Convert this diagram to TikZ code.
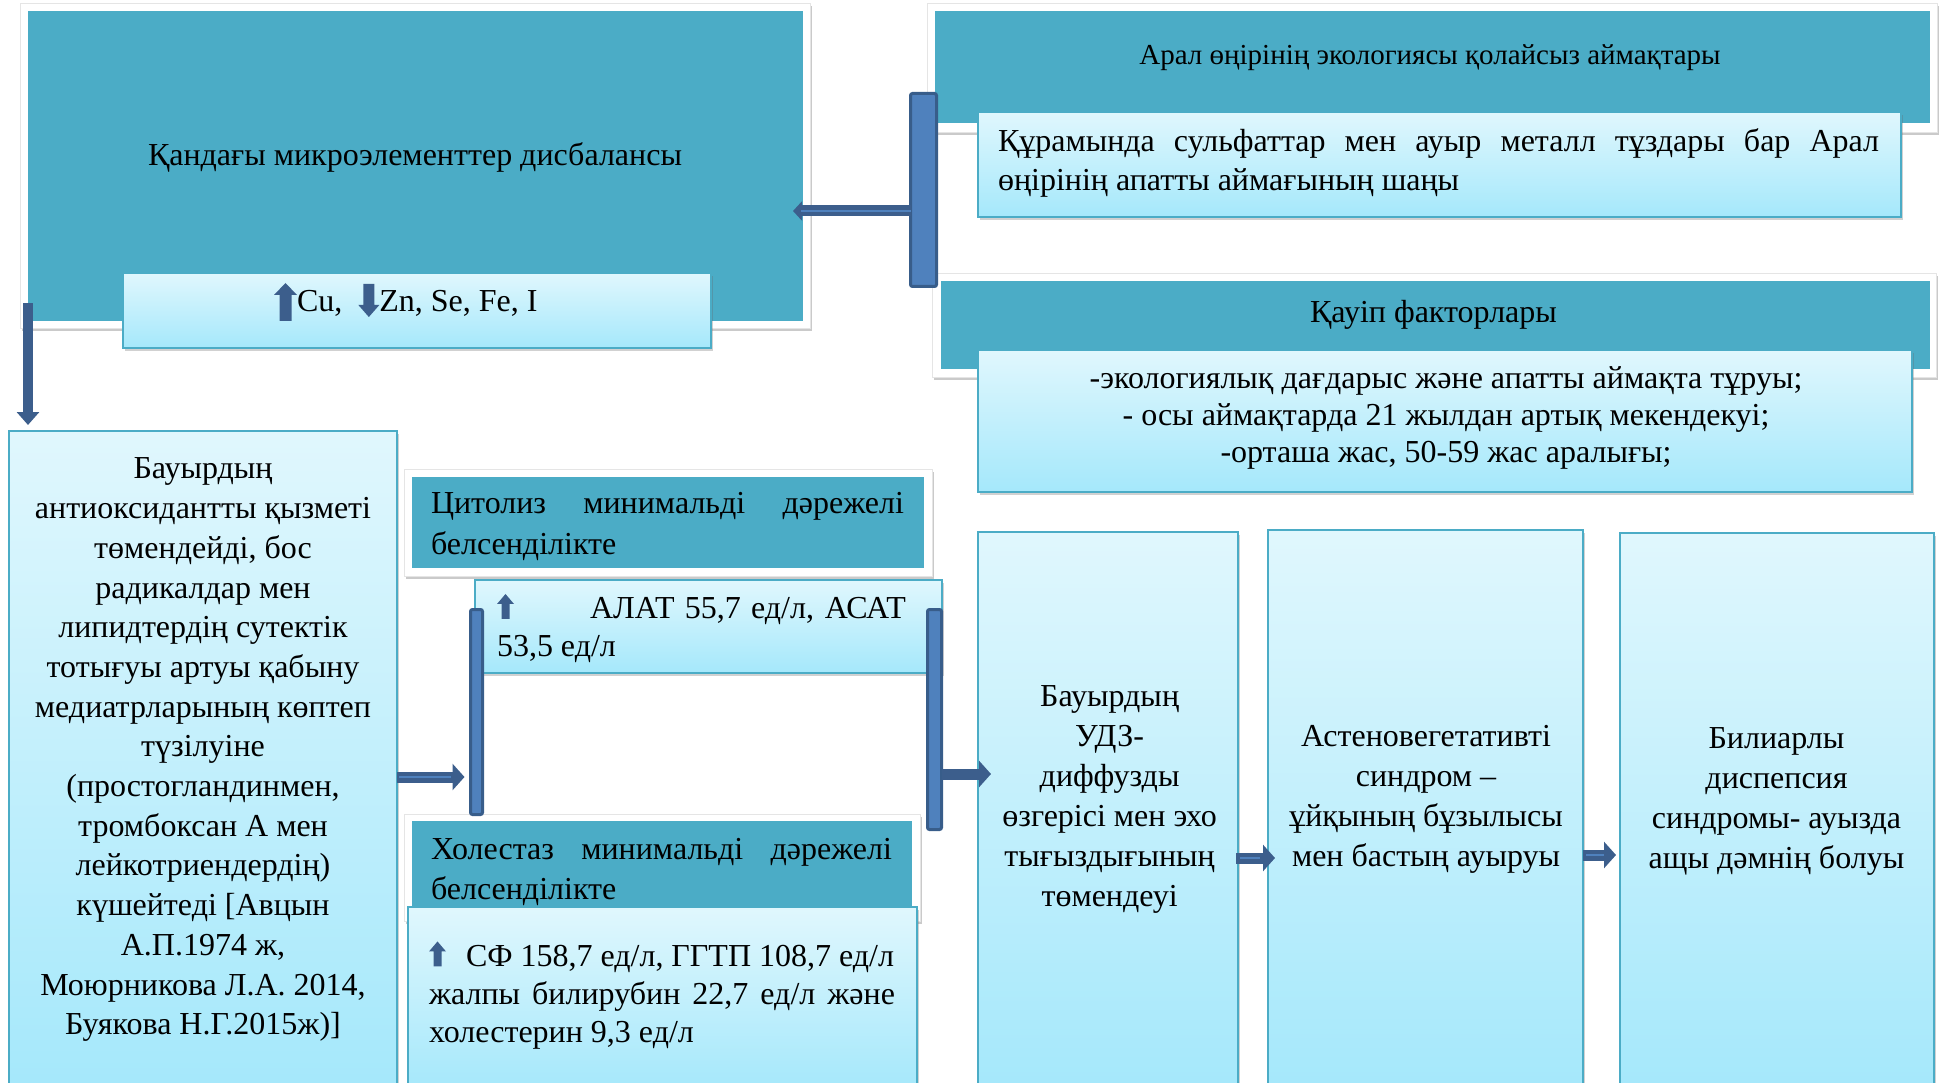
\documentclass[tikz,border=0pt]{standalone}
\usepackage{fontspec}
\setmainfont{Liberation Serif}
\usetikzlibrary{shadows,arrows.meta,calc}
\definecolor{tealc}{HTML}{4BACC6}
\definecolor{lighttop}{HTML}{E0F7FD}
\definecolor{lightbot}{HTML}{A5E8FB}
\definecolor{barfill}{HTML}{4F81BD}
\definecolor{barline}{HTML}{385D8A}
\definecolor{arrowc}{HTML}{3C5E8C}
\newcommand{\jline}[2]{\makebox[#1][s]{#2}}
\newcommand{\icUpBig}{\tikz[x=1pt,y=1pt,baseline=0pt]\fill[arrowc] (5.5,-9) -- (17.5,-9) -- (17.5,17) -- (23,17) -- (11.5,29) -- (0,17) -- (5.5,17) -- cycle;}
\newcommand{\icDownBig}{\tikz[x=1pt,y=1pt,baseline=0pt]\fill[arrowc] (5,28) -- (16,28) -- (16,7) -- (21,7) -- (10.5,-5) -- (0,7) -- (5,7) -- cycle;}
\newcommand{\icUpSmall}{\tikz[x=1pt,y=1pt,baseline=0pt]\fill[arrowc] (4.5,0) -- (12.5,0) -- (12.5,15) -- (17,15) -- (8.5,25) -- (0,15) -- (4.5,15) -- cycle;}
\begin{document}
\begin{tikzpicture}[x=1pt,y=-1pt,
  every node/.style={inner sep=0pt, outer sep=0pt},
  frame/.style={fill=white, draw=black!10, line width=0.6pt,
    drop shadow={shadow xshift=2pt,shadow yshift=-3pt,opacity=0.35,fill=black!60}},
  tealbox/.style={fill=tealc},
  lightbox/.style={draw=tealc, line width=1.5pt, top color=lighttop, bottom color=lightbot,
    drop shadow={shadow xshift=1.5pt,shadow yshift=-3pt,opacity=0.3,fill=black!60}},
  bar/.style={fill=barfill, draw=barline, line width=3pt, rounded corners=2pt},
  conn/.style={draw=arrowc, line width=11pt, -{Triangle[width=26pt,length=12pt]}},
  connS/.style={draw=arrowc, line width=11pt, -{Triangle[width=19pt,length=9pt]}},
  hl/.style={draw=barfill, line width=1.5pt},
  txt/.style={text=black, font=\fontsize{32}{40}\selectfont},
]
\useasboundingbox (0,0) rectangle (1943,1083);
\clip (0,0) rectangle (1943,1083);

% ---- top-left block
\node[frame, minimum width=790, minimum height=325] (tlframe) at (415,165.5) {};
\node[tealbox, minimum width=775, minimum height=310] (tlteal) at (415.5,166) {};
\node[txt, anchor=base] (tltitle) at (415,166) {Қандағы микроэлементтер дисбалансы};
\node[lightbox, minimum width=588, minimum height=75] (tlsub) at (417,310.5) {};
\node[txt, anchor=base west] (tlsubtext) at (274,312) {\icUpBig Cu,\hspace{16pt}\icDownBig Zn, Se, Fe, I};

% ---- top-right block 1
\node[frame, minimum width=1010, minimum height=129] (tr1frame) at (1432,67.5) {};
\node[tealbox, minimum width=995, minimum height=112] (tr1teal) at (1432.5,67) {};
\node[txt, font=\fontsize{29}{35}\selectfont, anchor=base] (tr1title) at (1430,65) {Арал өңірінің экологиясы қолайсыз аймақтары};
\node[lightbox, minimum width=923, minimum height=105] (tr1sub) at (1439.5,164.5) {};
\node[txt, font=\fontsize{32}{38.5}\selectfont, anchor=north west, align=left] (tr1text) at (998,124.75)
  {\strut\jline{881pt}{Құрамында сульфаттар мен ауыр металл тұздары бар Арал}\\өңірінің апатты аймағының шаңы};

% ---- top-right block 2
\node[frame, minimum width=1004, minimum height=104] (tr2frame) at (1434,325) {};
\node[tealbox, minimum width=989, minimum height=88] (tr2teal) at (1435.5,325) {};
\node[txt, anchor=base] (tr2title) at (1433.5,323) {Қауіп факторлары};
\node[lightbox, minimum width=934, minimum height=142] (tr2sub) at (1445,421) {};
\node[txt, font=\fontsize{32}{37}\selectfont, anchor=north, align=center] (tr2text) at (1446,362.1)
  {\strut-экологиялық дағдарыс және апатты аймақта тұруы;\\- осы аймақтарда 21 жылдан артық мекендекуі;\\-орташа жас, 50-59 жас аралығы;};

% ---- left box
\node[lightbox, minimum width=388, minimum height=659] (leftbox) at (203,760.5) {};
\node[txt, font=\fontsize{32}{39.7}\selectfont, anchor=north, align=center] (lefttext) at (203,451.2)
  {\strut Бауырдың\\антиоксидантты қызметі\\төмендейді, бос\\радикалдар мен\\липидтердің сутектік\\тотығуы артуы қабыну\\медиатрларының көптеп\\түзілуіне\\(простогландинмен,\\тромбоксан А мен\\лейкотриендердің)\\күшейтеді [Авцын\\А.П.1974 ж,\\Моюрникова Л.А. 2014,\\Буякова Н.Г.2015ж)]};

% ---- cytolysis
\node[frame, minimum width=528, minimum height=107] (cytframe) at (668,522.5) {};
\node[tealbox, minimum width=512, minimum height=91] (cytteal) at (668,522.5) {};
\node[txt, font=\fontsize{32}{41}\selectfont, anchor=north west, align=left] (cyttext) at (431,484.9)
  {\strut\jline{473pt}{Цитолиз минимальді дәрежелі}\\белсенділікте};
\node[lightbox, minimum width=467, minimum height=93] (alat) at (708.5,626.5) {};
\node[txt, font=\fontsize{32}{37.7}\selectfont, anchor=north west, align=left] (alattext) at (497,592.6)
  {\strut\makebox[409pt][l]{\icUpSmall\hfill\jline{316pt}{АЛАТ 55,7 ед/л, АСАТ}}\\53,5 ед/л};

% ---- cholestasis
\node[frame, minimum width=516, minimum height=107] (cholframe) at (662,867.5) {};
\node[tealbox, minimum width=500, minimum height=86] (cholteal) at (662,864) {};
\node[txt, font=\fontsize{32}{40}\selectfont, anchor=north west, align=left] (choltext) at (431,831)
  {\strut\jline{461pt}{Холестаз минимальді дәрежелі}\\белсенділікте};
\node[lightbox, minimum width=509, minimum height=183] (bottombox) at (662.5,998.5) {};
\node[txt, font=\fontsize{32}{37.8}\selectfont, anchor=north west, align=left] (bottomtext) at (429,940)
  {\strut\icUpSmall\hspace{20pt}\jline{428pt}{СФ 158,7 ед/л, ГГТП 108,7 ед/л}\\\jline{466pt}{жалпы билирубин 22,7 ед/л және}\\холестерин 9,3 ед/л};

% ---- right column boxes
\node[lightbox, minimum width=260, minimum height=558] (box1) at (1108,811) {};
\node[lightbox, minimum width=315, minimum height=560] (box2) at (1425.5,810) {};
\node[lightbox, minimum width=314, minimum height=557] (box3) at (1777,811.5) {};
\node[txt, anchor=north, align=center] (box1text) at (1109.6,678.7)
  {\strut Бауырдың\\УДЗ-\\диффузды\\өзгерісі мен эхо\\тығыздығының\\төмендеуі};
\node[txt, anchor=north, align=center] (box2text) at (1426,718)
  {\strut Астеновегетативті\\синдром –\\ұйқының бұзылысы\\мен бастың ауыруы};
\node[txt, anchor=north, align=center] (box3text) at (1776.5,720)
  {\strut Билиарлы\\диспепсия\\синдромы- ауызда\\ащы дәмнің болуы};

% ---- bars
\node[bar, minimum width=26, minimum height=193] (topbar) at (923.5,190) {};
\node[bar, minimum width=12, minimum height=205] (leftbar) at (476.5,712) {};
\node[bar, minimum width=14, minimum height=220] (rightbar) at (934.5,719.5) {};

% ---- connectors
\coordinate (a1e) at (793,211);
\draw[connS] (topbar.west |- a1e) -- (a1e);
\draw[hl] (topbar.west |- a1e) -- ($(a1e)+(8,0)$);

\coordinate (a2s) at (28,303);
\draw[draw=arrowc, line width=10pt, -{Triangle[width=22pt,length=13pt]}, shorten >=6pt] (a2s) -- (a2s |- leftbox.north);

\coordinate (a3) at (0,777);
\draw[conn, shorten >=6pt] (leftbox.east |- a3) -- (leftbar.west |- a3);
\draw[hl] ($(leftbox.east |- a3)+(2,0)$) -- ($(leftbar.west |- a3)+(-20,0)$);

\coordinate (a4) at (0,774);
\draw[conn, shorten >=-13pt] (rightbar.east |- a4) -- (box1.west |- a4);

\coordinate (a5) at (0,858);
\draw[conn, shorten <=-2pt, shorten >=-7pt] (box1.east |- a5) -- (box2.west |- a5);
\draw[hl] ($(box1.east |- a5)+(2,0)$) -- ($(box2.west |- a5)+(-8,0)$);

\coordinate (a6) at (0,855);
\draw[conn, shorten >=4pt] (box2.east |- a6) -- (box3.west |- a6);
\draw[hl] ($(box2.east |- a6)+(3,0)$) -- ($(box3.west |- a6)+(-16,0)$);
\end{tikzpicture}
\end{document}
